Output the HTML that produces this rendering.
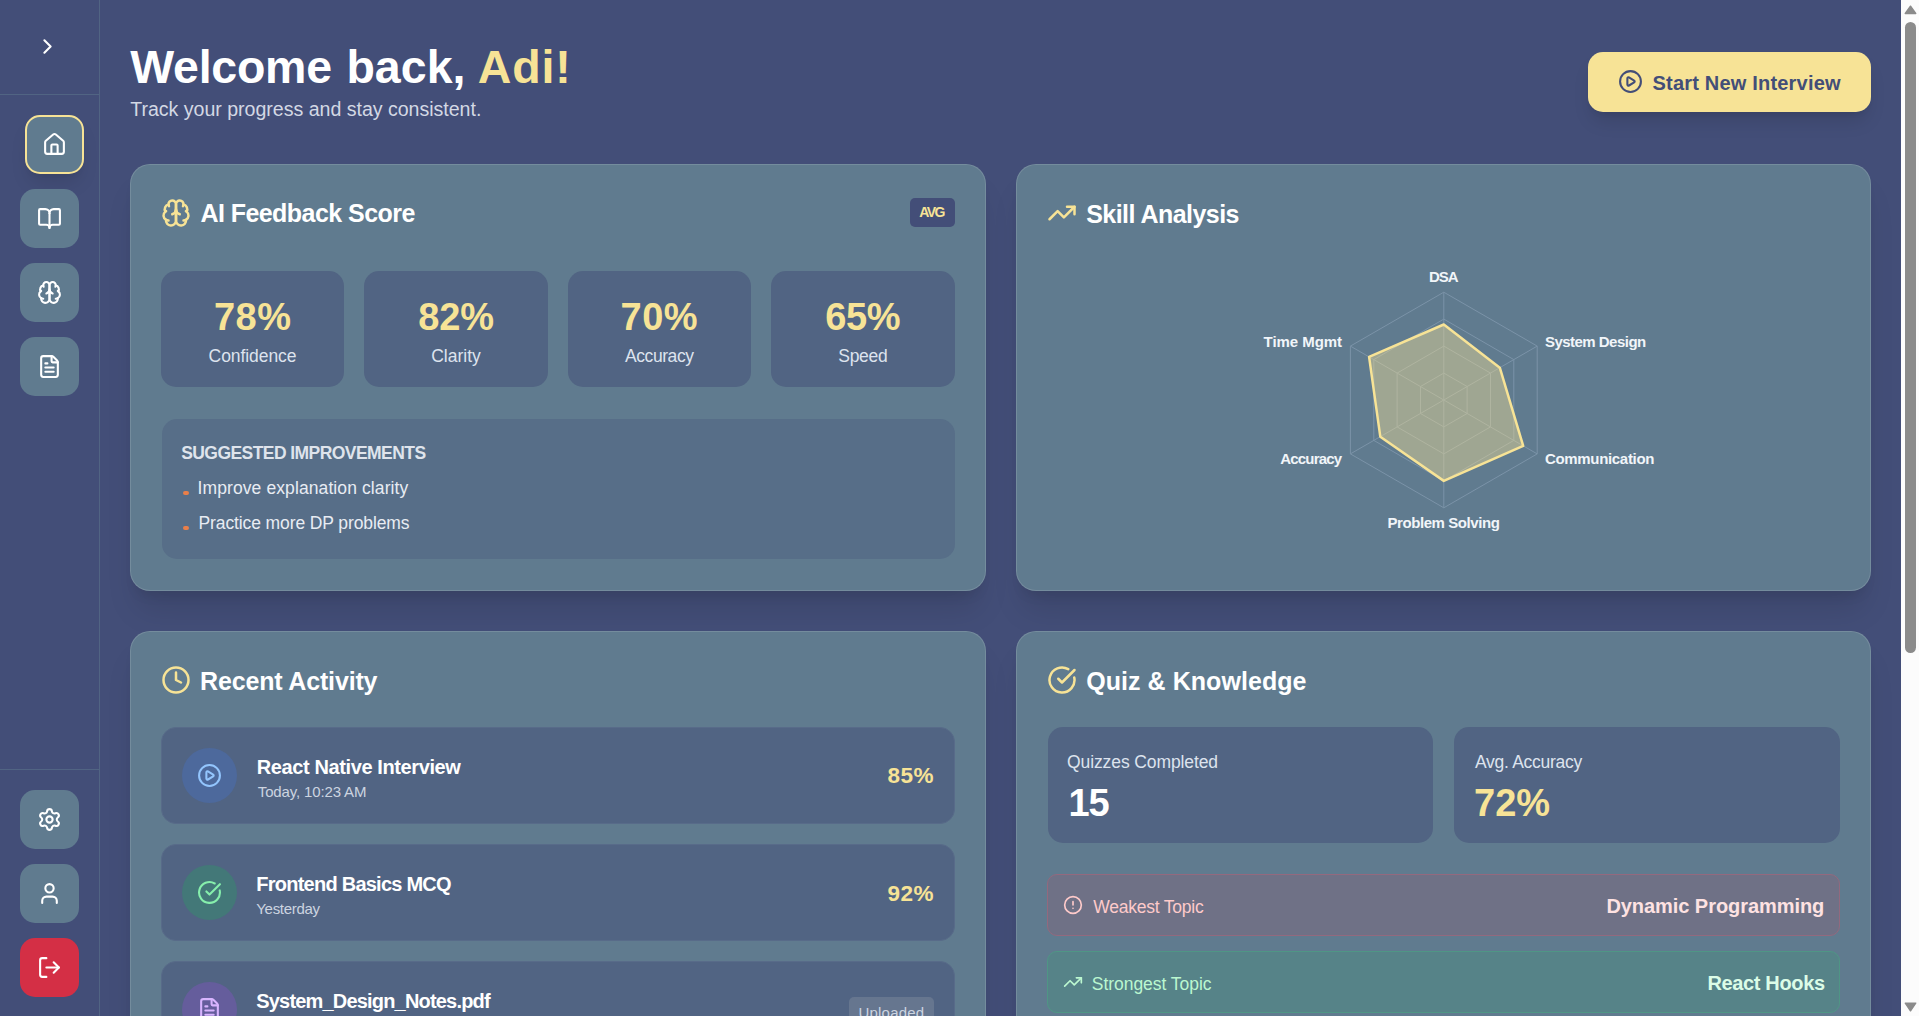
<!DOCTYPE html>
<html lang="en">
<head>
<meta charset="utf-8">
<title>Interview Dashboard</title>
<style>
*{box-sizing:border-box;margin:0;padding:0}
html,body{width:1919px;height:1016px;overflow:hidden}
body{background:#434e78;font-family:"Liberation Sans",sans-serif;position:relative}
.b{position:absolute;display:block}
.ic{position:absolute;display:block;fill:none;stroke:currentColor;stroke-linecap:round;stroke-linejoin:round}
.t{position:absolute;line-height:1;white-space:pre}
</style>
</head>
<body>
<div class="b" style="left:99px;top:0px;width:1px;height:1016px;border-radius:0px;background:#516483;"></div>
<div class="b" style="left:0px;top:94px;width:99px;height:1px;border-radius:0px;background:#516483;"></div>
<div class="b" style="left:0px;top:769px;width:99px;height:1px;border-radius:0px;background:#516483;"></div>
<svg class="ic" style="left:35.25px;top:34px;width:25px;height:25px;color:#fff;stroke-width:2" viewBox="0 0 24 24"><path d="m9 18 6-6-6-6"/></svg>
<div class="b" style="left:25px;top:115px;width:59px;height:59px;border-radius:15px;background:#607b8f;border:2px solid #f7e396;box-shadow:0 12.5px 19px -4px rgba(0,0,0,.1),0 5px 7.5px -5px rgba(0,0,0,.1)"></div>
<svg class="ic" style="left:42.2px;top:132.2px;width:25px;height:25px;color:#fff;stroke-width:2" viewBox="0 0 24 24"><path d="M15 21v-8a1 1 0 0 0-1-1h-4a1 1 0 0 0-1 1v8"/><path d="M3 10a2 2 0 0 1 .709-1.528l7-5.999a2 2 0 0 1 2.582 0l7 5.999A2 2 0 0 1 21 10v9a2 2 0 0 1-2 2H5a2 2 0 0 1-2-2z"/></svg>
<div class="b" style="left:20px;top:189px;width:59px;height:59px;border-radius:15px;background:#607b8f;"></div>
<svg class="ic" style="left:37px;top:205.7px;width:25px;height:25px;color:#fff;stroke-width:2" viewBox="0 0 24 24"><path d="M12 7v14"/><path d="M3 18a1 1 0 0 1-1-1V4a1 1 0 0 1 1-1h5a4 4 0 0 1 4 4 4 4 0 0 1 4-4h5a1 1 0 0 1 1 1v13a1 1 0 0 1-1 1h-6a3 3 0 0 0-3 3 3 3 0 0 0-3-3z"/></svg>
<div class="b" style="left:20px;top:263px;width:59px;height:59px;border-radius:15px;background:#607b8f;"></div>
<svg class="ic" style="left:37px;top:279.7px;width:25px;height:25px;color:#fff;stroke-width:2" viewBox="0 0 24 24"><path d="M12 5a3 3 0 1 0-5.997.125 4 4 0 0 0-2.526 5.77 4 4 0 0 0 .556 6.588A4 4 0 1 0 12 18Z"/><path d="M12 5a3 3 0 1 1 5.997.125 4 4 0 0 1 2.526 5.77 4 4 0 0 1-.556 6.588A4 4 0 1 1 12 18Z"/><path d="M15 13a4.5 4.5 0 0 1-3-4 4.5 4.5 0 0 1-3 4"/><path d="M17.599 6.5a3 3 0 0 0 .399-1.375"/><path d="M6.003 5.125A3 3 0 0 0 6.401 6.5"/><path d="M3.477 10.896a4 4 0 0 1 .585-.396"/><path d="M19.938 10.5a4 4 0 0 1 .585.396"/><path d="M6 18a4 4 0 0 1-1.967-.516"/><path d="M19.967 17.484A4 4 0 0 1 18 18"/></svg>
<div class="b" style="left:20px;top:337px;width:59px;height:59px;border-radius:15px;background:#607b8f;"></div>
<svg class="ic" style="left:37px;top:353.7px;width:25px;height:25px;color:#fff;stroke-width:2" viewBox="0 0 24 24"><path d="M6 22a2 2 0 0 1-2-2V4a2 2 0 0 1 2-2h8a2.4 2.4 0 0 1 1.704.706l3.588 3.588A2.4 2.4 0 0 1 20 8v12a2 2 0 0 1-2 2z"/><path d="M14 2v5a1 1 0 0 0 1 1h5"/><path d="M10 9H8"/><path d="M16 13H8"/><path d="M16 17H8"/></svg>
<div class="b" style="left:20px;top:790px;width:59px;height:59px;border-radius:15px;background:#607b8f;"></div>
<svg class="ic" style="left:37px;top:806.7px;width:25px;height:25px;color:#fff;stroke-width:2" viewBox="0 0 24 24"><path d="M9.671 4.136a2.34 2.34 0 0 1 4.659 0 2.34 2.34 0 0 0 3.319 1.915 2.34 2.34 0 0 1 2.33 4.033 2.34 2.34 0 0 0 0 3.831 2.34 2.34 0 0 1-2.33 4.033 2.34 2.34 0 0 0-3.319 1.915 2.34 2.34 0 0 1-4.659 0 2.34 2.34 0 0 0-3.32-1.915 2.34 2.34 0 0 1-2.33-4.033 2.34 2.34 0 0 0 0-3.831A2.34 2.34 0 0 1 6.35 6.051a2.34 2.34 0 0 0 3.319-1.915"/><circle cx="12" cy="12" r="3"/></svg>
<div class="b" style="left:20px;top:864px;width:59px;height:59px;border-radius:15px;background:#607b8f;"></div>
<svg class="ic" style="left:37px;top:880.7px;width:25px;height:25px;color:#fff;stroke-width:2" viewBox="0 0 24 24"><path d="M19 21v-2a4 4 0 0 0-4-4H9a4 4 0 0 0-4 4v2"/><circle cx="12" cy="7" r="4"/></svg>
<div class="b" style="left:20px;top:938px;width:59px;height:59px;border-radius:15px;background:#d42f45;"></div>
<svg class="ic" style="left:37px;top:955px;width:25px;height:25px;color:#fff;stroke-width:2" viewBox="0 0 24 24"><path d="M9 21H5a2 2 0 0 1-2-2V5a2 2 0 0 1 2-2h4"/><polyline points="16 17 21 12 16 7"/><line x1="21" x2="9" y1="12" y2="12"/></svg>
<div class="b" style="left:1588px;top:52px;width:283px;height:60px;border-radius:15px;background:#f7e396;box-shadow:0 12.5px 19px -4px rgba(0,0,0,.12),0 5px 7.5px -5px rgba(0,0,0,.12)"></div>
<svg class="ic" style="left:1618px;top:69.2px;width:25px;height:25px;color:#434e78;stroke-width:2" viewBox="0 0 24 24"><path d="M9 9.003a1 1 0 0 1 1.517-.859l4.997 2.997a1 1 0 0 1 0 1.718l-4.997 2.997A1 1 0 0 1 9 14.996z"/><circle cx="12" cy="12" r="10"/></svg>
<div class="b" style="left:130px;top:164px;width:856px;height:427px;border-radius:20px;background:#607b8f;border:1px solid rgba(255,255,255,.13);box-shadow:0 25px 31px -6px rgba(0,0,0,.1),0 10px 12.5px -7.5px rgba(0,0,0,.1);"></div>
<div class="b" style="left:1016px;top:164px;width:855px;height:427px;border-radius:20px;background:#607b8f;border:1px solid rgba(255,255,255,.13);box-shadow:0 25px 31px -6px rgba(0,0,0,.1),0 10px 12.5px -7.5px rgba(0,0,0,.1);"></div>
<div class="b" style="left:130px;top:631px;width:856px;height:500px;border-radius:20px;background:#607b8f;border:1px solid rgba(255,255,255,.13);box-shadow:0 25px 31px -6px rgba(0,0,0,.1),0 10px 12.5px -7.5px rgba(0,0,0,.1);"></div>
<div class="b" style="left:1016px;top:631px;width:855px;height:500px;border-radius:20px;background:#607b8f;border:1px solid rgba(255,255,255,.13);box-shadow:0 25px 31px -6px rgba(0,0,0,.1),0 10px 12.5px -7.5px rgba(0,0,0,.1);"></div>
<svg class="ic" style="left:161px;top:197.75px;width:30px;height:30px;color:#f7e396;stroke-width:2" viewBox="0 0 24 24"><path d="M12 5a3 3 0 1 0-5.997.125 4 4 0 0 0-2.526 5.77 4 4 0 0 0 .556 6.588A4 4 0 1 0 12 18Z"/><path d="M12 5a3 3 0 1 1 5.997.125 4 4 0 0 1 2.526 5.77 4 4 0 0 1-.556 6.588A4 4 0 1 1 12 18Z"/><path d="M15 13a4.5 4.5 0 0 1-3-4 4.5 4.5 0 0 1-3 4"/><path d="M17.599 6.5a3 3 0 0 0 .399-1.375"/><path d="M6.003 5.125A3 3 0 0 0 6.401 6.5"/><path d="M3.477 10.896a4 4 0 0 1 .585-.396"/><path d="M19.938 10.5a4 4 0 0 1 .585.396"/><path d="M6 18a4 4 0 0 1-1.967-.516"/><path d="M19.967 17.484A4 4 0 0 1 18 18"/></svg>
<div class="b" style="left:910px;top:198px;width:45px;height:29px;border-radius:5px;background:#434e78;"></div>
<div class="b" style="left:161.25px;top:271.25px;width:182.5px;height:116px;border-radius:15px;background:#516483;"></div>
<div class="b" style="left:364px;top:271.25px;width:184px;height:116px;border-radius:15px;background:#516483;"></div>
<div class="b" style="left:568.25px;top:271.25px;width:182.5px;height:116px;border-radius:15px;background:#516483;"></div>
<div class="b" style="left:771px;top:271.25px;width:183.75px;height:116px;border-radius:15px;background:#516483;"></div>
<div class="b" style="left:161.5px;top:418.5px;width:793px;height:140.5px;border-radius:15px;background:#576e88;"></div>
<div class="b" style="left:183px;top:490.8px;width:5.6px;height:4.6px;border-radius:2px;background:#e97f4a;"></div>
<div class="b" style="left:183px;top:525.8px;width:5.6px;height:4.6px;border-radius:2px;background:#e97f4a;"></div>
<svg class="ic" style="left:1046.75px;top:197.6px;width:30px;height:30px;color:#f7e396;stroke-width:2" viewBox="0 0 24 24"><polyline points="22 7 13.5 15.5 8.5 10.5 2 17"/><polyline points="16 7 22 7 22 13"/></svg>
<svg class="b" style="left:1200px;top:260px" width="500" height="290" viewBox="1200 260 500 290"><g fill="none" stroke="#7b93a8" stroke-width="1"><polygon points="1443.8,373.1 1467.1,386.5 1467.1,413.5 1443.8,426.9 1420.5,413.5 1420.5,386.5"/><polygon points="1443.8,346.1 1490.5,373.1 1490.5,426.9 1443.8,453.9 1397.1,426.9 1397.1,373.1"/><polygon points="1443.8,319.1 1513.8,359.6 1513.8,440.4 1443.8,480.9 1373.8,440.4 1373.8,359.6"/><polygon points="1443.8,292.2 1537.2,346.1 1537.2,453.9 1443.8,507.8 1350.4,453.9 1350.4,346.1"/><line x1="1443.8" y1="400.0" x2="1443.8" y2="292.2"/><line x1="1443.8" y1="400.0" x2="1537.2" y2="346.1"/><line x1="1443.8" y1="400.0" x2="1537.2" y2="453.9"/><line x1="1443.8" y1="400.0" x2="1443.8" y2="507.8"/><line x1="1443.8" y1="400.0" x2="1350.4" y2="453.9"/><line x1="1443.8" y1="400.0" x2="1350.4" y2="346.1"/></g><polygon points="1443.8,324.5 1499.8,367.7 1523.2,445.8 1443.8,480.9 1380.3,436.7 1369.1,356.9" fill="#f7e396" fill-opacity="0.42" stroke="#f7e396" stroke-width="2.5" stroke-linejoin="round"/></svg>
<svg class="ic" style="left:160.85px;top:664.75px;width:30px;height:30px;color:#f7e396;stroke-width:2" viewBox="0 0 24 24"><circle cx="12" cy="12" r="10"/><polyline points="12 6 12 12 16 14"/></svg>
<div class="b" style="left:161.3px;top:727.3px;width:793.7px;height:96.5px;border-radius:15px;background:#516483;border:1px solid #586b89"></div>
<div class="b" style="left:181.9px;top:748.0px;width:55px;height:55px;border-radius:28px;background:#4d699c;"></div>
<svg class="ic" style="left:196.9px;top:763.0px;width:25px;height:25px;color:#93c5fd;stroke-width:2" viewBox="0 0 24 24"><path d="M9 9.003a1 1 0 0 1 1.517-.859l4.997 2.997a1 1 0 0 1 0 1.718l-4.997 2.997A1 1 0 0 1 9 14.996z"/><circle cx="12" cy="12" r="10"/></svg>
<div class="b" style="left:161.3px;top:844.3px;width:793.7px;height:96.5px;border-radius:15px;background:#516483;border:1px solid #586b89"></div>
<div class="b" style="left:181.9px;top:865.0px;width:55px;height:55px;border-radius:28px;background:#437878;"></div>
<svg class="ic" style="left:196.9px;top:880.0px;width:25px;height:25px;color:#86efac;stroke-width:2" viewBox="0 0 24 24"><path d="M21.801 10A10 10 0 1 1 17 3.335"/><path d="m9 11 3 3L22 4"/></svg>
<div class="b" style="left:161.3px;top:961.3px;width:793.7px;height:96.5px;border-radius:15px;background:#516483;border:1px solid #586b89"></div>
<div class="b" style="left:181.9px;top:982.0px;width:55px;height:55px;border-radius:28px;background:#655d9c;"></div>
<svg class="ic" style="left:196.9px;top:997.0px;width:25px;height:25px;color:#d8b4fe;stroke-width:2" viewBox="0 0 24 24"><path d="M6 22a2 2 0 0 1-2-2V4a2 2 0 0 1 2-2h8a2.4 2.4 0 0 1 1.704.706l3.588 3.588A2.4 2.4 0 0 1 20 8v12a2 2 0 0 1-2 2z"/><path d="M14 2v5a1 1 0 0 0 1 1h5"/><path d="M10 9H8"/><path d="M16 13H8"/><path d="M16 17H8"/></svg>
<div class="b" style="left:849px;top:996.6px;width:85px;height:30px;border-radius:5px;background:#66768f;"></div>
<svg class="ic" style="left:1047px;top:665px;width:30px;height:30px;color:#f7e396;stroke-width:2" viewBox="0 0 24 24"><path d="M21.801 10A10 10 0 1 1 17 3.335"/><path d="m9 11 3 3L22 4"/></svg>
<div class="b" style="left:1047.5px;top:727.3px;width:385px;height:116px;border-radius:15px;background:#516483;"></div>
<div class="b" style="left:1453.6px;top:727.3px;width:386.5px;height:116px;border-radius:15px;background:#516483;"></div>
<div class="b" style="left:1047px;top:874px;width:793px;height:62px;border-radius:10px;background:#6f7186;border:1px solid #93697e"></div>
<svg class="ic" style="left:1063px;top:895px;width:20px;height:20px;color:#fecaca;stroke-width:2" viewBox="0 0 24 24"><circle cx="12" cy="12" r="10"/><line x1="12" x2="12" y1="8" y2="12"/><line x1="12" x2="12.01" y1="16" y2="16"/></svg>
<div class="b" style="left:1047px;top:951px;width:793px;height:62px;border-radius:10px;background:#568388;border:1px solid #4f9685"></div>
<svg class="ic" style="left:1063px;top:972px;width:20px;height:20px;color:#bbf7d0;stroke-width:2" viewBox="0 0 24 24"><polyline points="22 7 13.5 15.5 8.5 10.5 2 17"/><polyline points="16 7 22 7 22 13"/></svg>
<span class="t" style="left:130.25px;top:43.64px;font-size:46.5px;font-weight:bold;letter-spacing:-0.25px;color:#fff">Welcome</span>
<span class="t" style="left:346.40px;top:43.64px;font-size:46.5px;font-weight:bold;letter-spacing:0.05px;color:#fff">back,</span>
<span class="t" style="left:477.75px;top:43.64px;font-size:46.5px;font-weight:bold;letter-spacing:0.834px;color:#f7e396">Adi!</span>
<span class="t" style="left:130.25px;top:100.41px;font-size:19.6px;letter-spacing:-0.026px;color:#d3d8e4">Track your progress and stay consistent.</span>
<span class="t" style="left:1652.50px;top:73.07px;font-size:20px;font-weight:bold;letter-spacing:0.195px;color:#434e78">Start New Interview</span>
<span class="t" style="left:200.40px;top:200.84px;font-size:25px;font-weight:bold;letter-spacing:-0.55px;color:#fff">AI Feedback Score</span>
<span class="t" style="left:919.20px;top:205.15px;font-size:14px;font-weight:bold;letter-spacing:-1.6px;color:#f7e396">AVG</span>
<span class="t" style="left:213.90px;top:297.83px;font-size:38px;font-weight:bold;letter-spacing:0.6px;color:#f7e396">78%</span>
<span class="t" style="left:418.30px;top:297.83px;font-size:38px;font-weight:bold;letter-spacing:-0.2px;color:#f7e396">82%</span>
<span class="t" style="left:620.50px;top:297.83px;font-size:38px;font-weight:bold;letter-spacing:0.5px;color:#f7e396">70%</span>
<span class="t" style="left:825.20px;top:297.83px;font-size:38px;font-weight:bold;letter-spacing:-0.4px;color:#f7e396">65%</span>
<span class="t" style="left:208.60px;top:348.19px;font-size:17.5px;letter-spacing:-0.066px;color:#dde3ee">Confidence</span>
<span class="t" style="left:431.20px;top:348.19px;font-size:17.5px;letter-spacing:0.0px;color:#dde3ee">Clarity</span>
<span class="t" style="left:625.00px;top:348.19px;font-size:17.5px;letter-spacing:-0.429px;color:#dde3ee">Accuracy</span>
<span class="t" style="left:838.30px;top:348.19px;font-size:17.5px;letter-spacing:-0.3px;color:#dde3ee">Speed</span>
<span class="t" style="left:181.20px;top:445.19px;font-size:17.5px;font-weight:bold;letter-spacing:-0.562px;color:#dfe4ec">SUGGESTED IMPROVEMENTS</span>
<span class="t" style="left:197.50px;top:480.19px;font-size:17.5px;letter-spacing:0.1px;color:#e8ecf3">Improve explanation clarity</span>
<span class="t" style="left:198.50px;top:515.19px;font-size:17.5px;letter-spacing:-0.109px;color:#e8ecf3">Practice more DP problems</span>
<span class="t" style="left:1086.20px;top:201.84px;font-size:25px;font-weight:bold;letter-spacing:-0.538px;color:#fff">Skill Analysis</span>
<span class="t" style="left:1428.90px;top:269.30px;font-size:15px;font-weight:bold;letter-spacing:-1.0px;color:#f1f5f9">DSA</span>
<span class="t" style="left:1544.90px;top:334.30px;font-size:15px;font-weight:bold;letter-spacing:-0.517px;color:#f1f5f9">System Design</span>
<span class="t" style="left:1544.90px;top:451.30px;font-size:15px;font-weight:bold;letter-spacing:-0.317px;color:#f1f5f9">Communication</span>
<span class="t" style="left:1387.50px;top:515.30px;font-size:15px;font-weight:bold;letter-spacing:-0.429px;color:#f1f5f9">Problem Solving</span>
<span class="t" style="left:1280.30px;top:451.30px;font-size:15px;font-weight:bold;letter-spacing:-0.828px;color:#f1f5f9">Accuracy</span>
<span class="t" style="left:1263.60px;top:334.30px;font-size:15px;font-weight:bold;letter-spacing:-0.049px;color:#f1f5f9">Time Mgmt</span>
<span class="t" style="left:200.00px;top:668.84px;font-size:25px;font-weight:bold;letter-spacing:-0.157px;color:#fff">Recent Activity</span>
<span class="t" style="left:256.80px;top:757.07px;font-size:20px;font-weight:bold;letter-spacing:-0.391px;color:#fff">React Native Interview</span>
<span class="t" style="left:257.80px;top:784.30px;font-size:15px;letter-spacing:-0.143px;color:#ccd4e0">Today, 10:23 AM</span>
<span class="t" style="left:256.30px;top:874.07px;font-size:20px;font-weight:bold;letter-spacing:-0.756px;color:#fff">Frontend Basics MCQ</span>
<span class="t" style="left:256.30px;top:901.30px;font-size:15px;letter-spacing:-0.3px;color:#ccd4e0">Yesterday</span>
<span class="t" style="left:256.30px;top:991.07px;font-size:20px;font-weight:bold;letter-spacing:-0.818px;color:#fff">System_Design_Notes.pdf</span>
<span class="t" style="left:887.40px;top:764.95px;font-size:22.5px;font-weight:bold;letter-spacing:0.6px;color:#f7e396">85%</span>
<span class="t" style="left:887.40px;top:882.95px;font-size:22.5px;font-weight:bold;letter-spacing:0.6px;color:#f7e396">92%</span>
<span class="t" style="left:858.40px;top:1005.30px;font-size:15px;letter-spacing:0.228px;color:#ccd4e0">Uploaded</span>
<span class="t" style="left:1086.20px;top:668.84px;font-size:25px;font-weight:bold;letter-spacing:0.053px;color:#fff">Quiz &amp; Knowledge</span>
<span class="t" style="left:1067.10px;top:754.19px;font-size:17.5px;letter-spacing:-0.113px;color:#dde3ee">Quizzes Completed</span>
<span class="t" style="left:1068.50px;top:783.83px;font-size:38px;font-weight:bold;letter-spacing:-1.2px;color:#fff">15</span>
<span class="t" style="left:1475.00px;top:754.19px;font-size:17.5px;letter-spacing:-0.284px;color:#dde3ee">Avg. Accuracy</span>
<span class="t" style="left:1474.10px;top:783.83px;font-size:38px;font-weight:bold;letter-spacing:-0.1px;color:#f7e396">72%</span>
<span class="t" style="left:1093.20px;top:899.19px;font-size:17.5px;letter-spacing:-0.216px;color:#fecaca">Weakest Topic</span>
<span class="t" style="left:1606.40px;top:896.07px;font-size:20px;font-weight:bold;letter-spacing:-0.056px;color:#fee2e2">Dynamic Programming</span>
<span class="t" style="left:1091.80px;top:976.19px;font-size:17.5px;letter-spacing:-0.042px;color:#bbf7d0">Strongest Topic</span>
<span class="t" style="left:1707.50px;top:973.07px;font-size:20px;font-weight:bold;letter-spacing:-0.36px;color:#dcfce7">React Hooks</span>
<div class="b" style="left:1901px;top:0px;width:18px;height:1016px;border-radius:0px;background:#fcfcfc;"></div>
<div class="b" style="left:1905px;top:22px;width:11px;height:631px;border-radius:6px;background:#8b8b8b;"></div>
<svg class="b" style="left:1901px;top:0" width="18" height="1016"><path d="M9.5 6.2 L14.7 13.4 L4.3 13.4 Z" fill="#8b8b8b" stroke="#8b8b8b" stroke-width="1.5" stroke-linejoin="round"/><path d="M9.5 1010.8 L14.7 1003.2 L4.3 1003.2 Z" fill="#8b8b8b" stroke="#8b8b8b" stroke-width="1.5" stroke-linejoin="round"/></svg>
</body>
</html>
